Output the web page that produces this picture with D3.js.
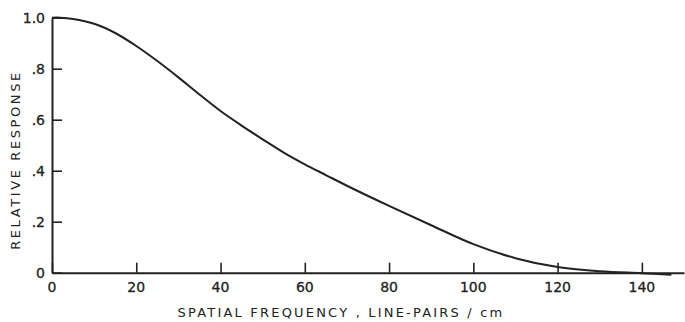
<!DOCTYPE html>
<html>
<head>
<meta charset="utf-8">
<script src="https://cdn.jsdelivr.net/npm/d3@7"></script>
<style>
  body { margin: 0; background: #fff; }
  text { font-family: "DejaVu Sans", sans-serif; fill: #222; }
</style>
</head>
<body>
<div id="chart"></div>
<script>
// Data
const freq = [0, 2, 5, 10, 15, 20, 25, 30, 35, 40, 45, 50, 55, 60, 65, 70, 80, 90, 100, 110, 120, 130, 140, 147]
const response = [1.0, 1.0, 0.995, 0.976, 0.94, 0.889, 0.83, 0.766, 0.699, 0.634, 0.577, 0.523, 0.471, 0.425, 0.383, 0.341, 0.262, 0.186, 0.112, 0.057, 0.022, 0.006, -0.002, -0.008]
const xTicks = [0, 20, 40, 60, 80, 100, 120, 140]
const yTicks = [0, 0.2, 0.4, 0.6, 0.8, 1.0]
const yTickLabels = ['0', '.2', '.4', '.6', '.8', '1.0']

const width = 685
const height = 322
const margin = { top: 17.7, right: 1, bottom: 49.3, left: 52 }

const svg = d3.select('#chart')
  .append('svg')
  .attr('width', width)
  .attr('height', height)

const x = d3.scaleLinear()
  .domain([0, 150])
  .range([margin.left, width - margin.right])

const y = d3.scaleLinear()
  .domain([0, 1])
  .range([height - margin.bottom, margin.top])

// X axis, ticks pointing up into the plot
const xAxis = svg.append('g')
  .attr('transform', `translate(0, ${y(0)})`)
  .call(d3.axisTop(x).tickValues(xTicks).tickSize(10).tickSizeOuter(0).tickFormat(''))
xAxis.select('.domain').attr('stroke', '#222').attr('stroke-width', 2)
xAxis.selectAll('.tick line').attr('stroke', '#222').attr('stroke-width', 1.6)

svg.append('g')
  .selectAll('text')
  .data(xTicks)
  .enter().append('text')
  .attr('x', d => x(d))
  .attr('y', y(0) + 19)
  .attr('text-anchor', 'middle')
  .style('font-size', '14px')
  .style('stroke', '#222')
  .style('stroke-width', '0.3px')
  .text(d => d)

// Y axis, ticks pointing right into the plot
const yAxis = svg.append('g')
  .attr('transform', `translate(${x(0)}, 0)`)
  .call(d3.axisRight(y).tickValues(yTicks).tickSize(10).tickSizeOuter(0).tickFormat(''))
yAxis.select('.domain').attr('stroke', '#222').attr('stroke-width', 2)
yAxis.selectAll('.tick line').attr('stroke', '#222').attr('stroke-width', 1.6)

svg.append('g')
  .selectAll('text')
  .data(yTicks)
  .enter().append('text')
  .attr('x', x(0) - 7)
  .attr('y', d => y(d) + 5)
  .attr('text-anchor', 'end')
  .style('font-size', '14px')
  .style('stroke', '#222')
  .style('stroke-width', '0.3px')
  .text((d, i) => yTickLabels[i])

// Axis titles
svg.append('text')
  .attr('x', 341)
  .attr('y', 317)
  .attr('text-anchor', 'middle')
  .style('font-size', '13px')
  .style('letter-spacing', '2.2px')
  .text('SPATIAL FREQUENCY , LINE-PAIRS / cm')

svg.append('text')
  .attr('transform', 'translate(20, 160) rotate(-90)')
  .attr('text-anchor', 'middle')
  .style('font-size', '13px')
  .style('letter-spacing', '2.6px')
  .text('RELATIVE RESPONSE')

// Response curve
const line = d3.line()
  .x((d, i) => x(freq[i]))
  .y(d => y(d))
  .curve(d3.curveCatmullRom)

svg.append('path')
  .datum(response)
  .attr('fill', 'none')
  .attr('stroke', '#222')
  .attr('stroke-width', 2)
  .attr('d', line)
</script>
</body>
</html>
